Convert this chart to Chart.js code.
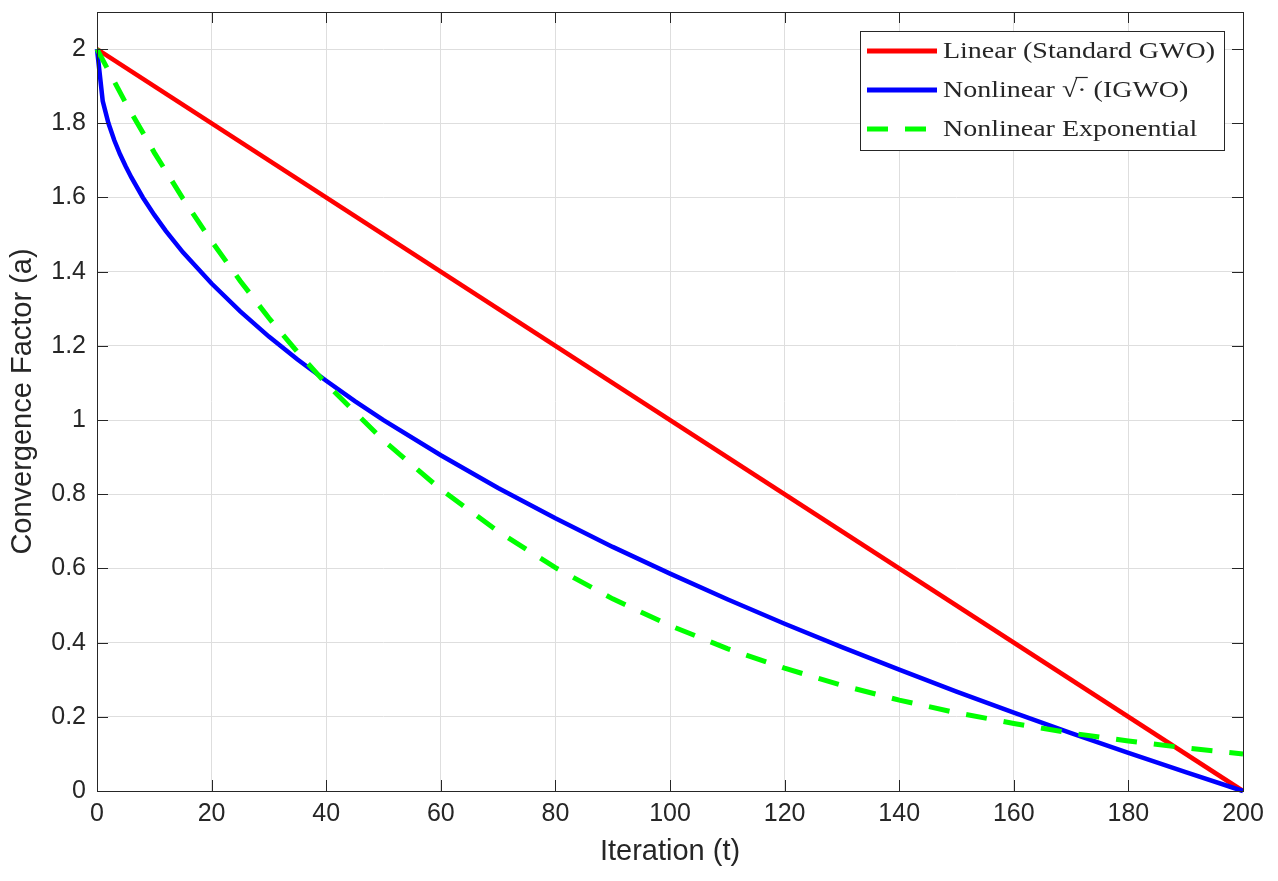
<!DOCTYPE html>
<html>
<head>
<meta charset="utf-8">
<script src="https://cdn.jsdelivr.net/npm/chart.js@4/dist/chart.umd.min.js"></script>
<style>
  html, body { margin: 0; padding: 0; background: #fff; }
  canvas { display: block; }
</style>
</head>
<body>
<canvas id="conv" width="1278" height="881"></canvas>
<script>
// values
const iterLinear = [0, 200];
const linearVals = [2.0, 0.0];

const iterSqrt = [0, 1, 2, 3, 4, 5, 6, 8, 10, 12, 15, 20, 25, 30, 35, 40, 45, 50, 60, 70, 80, 90, 100, 110, 120, 130, 140, 150, 160, 170, 180, 190, 200];
const sqrtVals = [2.0, 1.86, 1.80, 1.755, 1.717, 1.684, 1.654, 1.60, 1.553, 1.51, 1.452, 1.368, 1.293, 1.225, 1.163, 1.106, 1.051, 1.0, 0.905, 0.817, 0.735, 0.658, 0.586, 0.517, 0.451, 0.388, 0.327, 0.268, 0.211, 0.156, 0.103, 0.051, 0.0];

const iterExp = [0, 5, 10, 15, 20, 25, 30, 35, 40, 50, 60, 70, 80, 90, 100, 110, 120, 130, 140, 150, 160, 170, 180, 190, 200];
const expVals = [2.0, 1.855, 1.721, 1.597, 1.482, 1.375, 1.275, 1.183, 1.098, 0.945, 0.813, 0.70, 0.602, 0.518, 0.446, 0.384, 0.331, 0.285, 0.245, 0.211, 0.182, 0.156, 0.135, 0.116, 0.10];

const xTicks = [0, 20, 40, 60, 80, 100, 120, 140, 160, 180, 200];
const yTicks = [0, 0.2, 0.4, 0.6, 0.8, 1, 1.2, 1.4, 1.6, 1.8, 2];

const seriesNames = ["Linear (Standard GWO)", "Nonlinear \u221A\u00B7 (IGWO)", "Nonlinear Exponential"];

const textColor = "#262626";
const sansFont = "'Liberation Sans', Arial, Helvetica, sans-serif";
const serifFont = "'Liberation Serif', 'DejaVu Serif', serif";

function toPoints(xs, ys) {
  return xs.map((x, i) => ({ x: x, y: ys[i] }));
}

// box around plot + inward ticks on all four sides
const axesBox = {
  id: "axesBox",
  afterDatasetsDraw(chart) {
    const { ctx, chartArea: a, scales } = chart;
    ctx.save();
    ctx.strokeStyle = textColor;
    ctx.lineWidth = 1;
    const len = 11;
    ctx.beginPath();
    xTicks.forEach(v => {
      const px = Math.round(scales.x.getPixelForValue(v)) + 0.5;
      ctx.moveTo(px, a.bottom); ctx.lineTo(px, a.bottom - len);
      ctx.moveTo(px, a.top); ctx.lineTo(px, a.top + len);
    });
    yTicks.forEach(v => {
      const py = Math.round(scales.y.getPixelForValue(v)) + 0.5;
      ctx.moveTo(a.left, py); ctx.lineTo(a.left + len, py);
      ctx.moveTo(a.right, py); ctx.lineTo(a.right - len, py);
    });
    ctx.stroke();
    ctx.strokeRect(Math.round(a.left) + 0.5, Math.round(a.top) + 0.5,
      Math.round(a.right - a.left), Math.round(a.bottom - a.top));
    ctx.restore();
  }
};

// legend box inside the axes, top right
const boxLegend = {
  id: "boxLegend",
  afterDraw(chart) {
    const { ctx } = chart;
    const ds = chart.data.datasets;
    const bx = 860.5, by = 31.5, bw = 364, bh = 119;
    ctx.save();
    ctx.fillStyle = "#fff";
    ctx.fillRect(bx, by, bw, bh);
    ctx.strokeStyle = textColor;
    ctx.lineWidth = 1;
    ctx.strokeRect(bx, by, bw, bh);

    const rows = [51, 90, 129];
    const tx = 943;
    ctx.font = "24px " + serifFont;
    // stretch the serif text to the width of the original LaTeX labels
    const sx = 272 / ctx.measureText(seriesNames[0]).width;
    ctx.textBaseline = "middle";
    ds.forEach((d, i) => {
      const y = rows[i];
      ctx.strokeStyle = d.borderColor;
      ctx.lineWidth = 5;
      ctx.setLineDash(d.borderDash || []);
      ctx.beginPath();
      ctx.moveTo(867, y);
      ctx.lineTo(937, y);
      ctx.stroke();
      ctx.setLineDash([]);

      const label = seriesNames[i];
      ctx.save();
      ctx.translate(tx, y + 1);
      ctx.scale(sx, 1);
      ctx.fillStyle = textColor;
      ctx.fillText(label, 0, 0);
      // overbar for the square root sign
      const k = label.indexOf("\u221A");
      if (k >= 0) {
        const x0 = ctx.measureText(label.slice(0, k)).width;
        const wRoot = ctx.measureText("\u221A").width;
        const wDot = ctx.measureText("\u00B7").width;
        ctx.strokeStyle = textColor;
        ctx.lineWidth = 1.2;
        ctx.beginPath();
        ctx.moveTo(x0 + wRoot - 1.5, -13.5);
        ctx.lineTo(x0 + wRoot + wDot + 1, -13.5);
        ctx.stroke();
      }
      ctx.restore();
    });
    ctx.restore();
  }
};

new Chart(document.getElementById("conv"), {
  type: "line",
  data: {
    datasets: [
      {
        label: seriesNames[0],
        data: toPoints(iterLinear, linearVals),
        borderColor: "#ff0000",
        borderWidth: 4.5,
        order: 2
      },
      {
        label: seriesNames[1],
        data: toPoints(iterSqrt, sqrtVals),
        borderColor: "#0000ff",
        borderWidth: 4.5,
        order: 1
      },
      {
        label: seriesNames[2],
        data: toPoints(iterExp, expVals),
        borderColor: "#00ff00",
        borderWidth: 5,
        borderDash: [21, 17],
        borderCapStyle: "butt",
        order: 0
      }
    ]
  },
  options: {
    responsive: false,
    animation: false,
    devicePixelRatio: 1,
    layout: { padding: { top: 12, right: 35, left: 0, bottom: 0 } },
    elements: {
      point: { radius: 0, hoverRadius: 0 },
      line: { tension: 0, fill: false }
    },
    datasets: { line: { clip: 6 } },
    plugins: {
      legend: { display: false },
      tooltip: { enabled: false }
    },
    scales: {
      x: {
        type: "linear",
        min: 0,
        max: 200,
        afterBuildTicks(scale) { scale.ticks = xTicks.map(v => ({ value: v })); },
        afterFit(scale) {
          scale.height = 90;
          scale.paddingLeft = 0; scale.paddingRight = 0;
        },
        grid: { color: "#dedede", lineWidth: 1, drawTicks: false },
        border: { display: false },
        ticks: {
          color: textColor,
          font: { family: sansFont, size: 25 },
          padding: 8,
          maxRotation: 0
        },
        title: {
          display: true,
          text: "Iteration (t)",
          color: textColor,
          font: { family: sansFont, size: 29 },
          padding: { top: 0, bottom: 12 }
        }
      },
      y: {
        type: "linear",
        min: 0,
        max: 2.1,
        afterBuildTicks(scale) { scale.ticks = yTicks.map(v => ({ value: v })); },
        afterFit(scale) {
          scale.width = 97;
          scale.paddingTop = 0; scale.paddingBottom = 0;
        },
        grid: { color: "#dedede", lineWidth: 1, drawTicks: false },
        border: { display: false },
        ticks: {
          color: textColor,
          font: { family: sansFont, size: 25 },
          padding: 11,
          callback: v => String(Math.round(v * 10) / 10)
        },
        title: {
          display: true,
          text: "Convergence Factor (a)",
          color: textColor,
          font: { family: sansFont, size: 29 },
          padding: { top: 6, bottom: 0 }
        }
      }
    }
  },
  plugins: [axesBox, boxLegend]
});
</script>
</body>
</html>
